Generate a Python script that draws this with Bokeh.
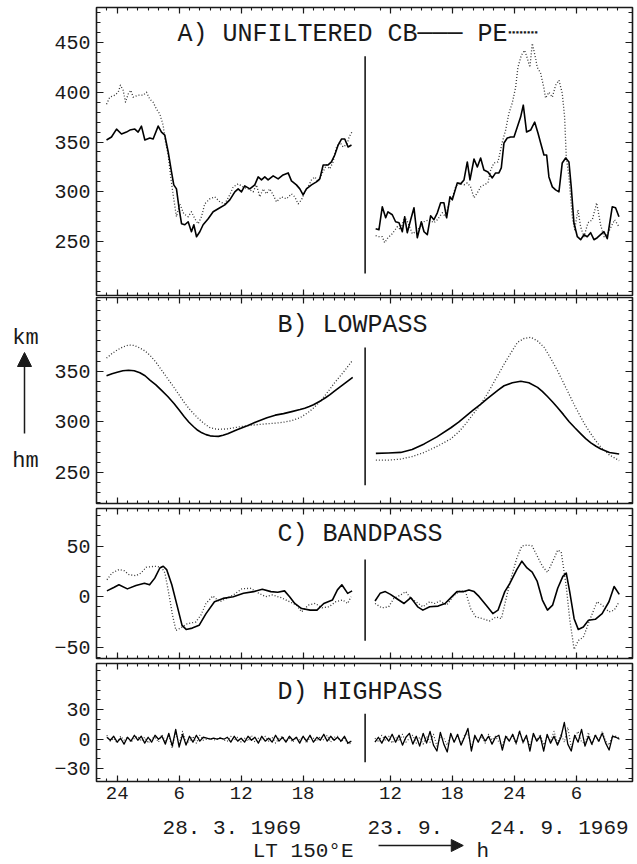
import numpy as np
from bokeh.plotting import figure
from bokeh.layouts import column, row
from bokeh.models import (Range1d, LinearAxis, FixedTicker, Label, Arrow,
                          NormalHead, CustomJSTickFormatter)
from bokeh.core.properties import value
from bokeh.embed import file_html
from bokeh.resources import INLINE

# ---------------------------------------------------------------- data
# x = local time LT 150E in hours.
# left block: 28.3.1969 (0 = 24h of 27/28.3); right block: hours from 00 LT of 23.9.1969
RIGHT_OFFSET = 14.45          # plot position of right block = LT + offset
X_START, X_END = -2.0, 49.88

X_MAJ_L = [0, 6, 12, 18]
X_MAJ_L_LABELS = ["24", "6", "12", "18"]
X_MAJ_R = [12, 18, 24, 30]
X_MAJ_R_LABELS = ["12", "18", "24", "6"]
X_MIN_L = list(range(-1, 24))
X_MIN_R = list(range(11, 35))
DIVIDER_X = 24.0

# A) unfiltered hm (km)
A_CB_L_T = [-1.03,-0.55,-0.06,0.42,0.90,1.23,1.71,2.03,2.35,2.68,3.16,3.48,3.97,4.29,4.61,4.94,5.26,5.48,5.74,6.00,
            6.23,6.55,6.87,7.19,7.42,7.68,8.00,8.32,8.81,9.29,9.94,10.42,10.90,11.39,11.71,12.03,12.35,12.84,13.32,13.65,
            13.97,14.29,14.61,15.10,15.58,16.06,16.55,16.87,17.35,17.68,18.00,18.32,18.81,19.29,19.61,19.94,20.42,20.74,21.06,21.39,
            21.71,22.03,22.35,22.68]
A_CB_L = [352,355,363,358,360,362,363,360,366,352, 354,353,366,360,357,340,320,307,303,283,
          268,267,270,260,267,255,260,267,273,280, 284,287,292,300,303,300,306,303,307,315,
          312,315,312,316,313,317,319,311,307,303, 297,303,307,310,313,327,327,330,337,347,
          353,353,345,347]
A_PE_L_T = [-1.03,-0.71,-0.23,0.10,0.32,0.58,0.81,1.06,1.32,1.55, 2.03,2.52,2.84,3.16,3.48,3.81,4.13,4.45,4.68,4.94,
            5.16,5.42,5.74,6.06,6.45,6.87,7.19,7.52,7.84,8.16, 8.48,8.97,9.45,9.94,10.42,10.90,11.23,11.71,12.19,12.68,
            13.16,13.48,13.81,14.13,14.45,14.77,15.10,15.42,15.90,16.39, 16.87,17.19,17.52,17.84,18.16,18.48,18.81,19.13,19.45,19.77,
            20.26,20.58,20.90,21.23,21.55,21.87,22.26,22.45,22.77]
A_PE_L = [388,395,397,400,407,402,390,398,402,395, 397,397,400,393,390,383,378,367,350,337,
          317,297,275,288,278,275,280,273,268,275, 288,293,295,290,288,297,305,308,305,303,
          300,307,295,303,298,303,297,290,295,293, 298,295,288,292,300,305,312,315,310,317,
          327,323,330,345,350,345,348,355,361]
A_CB_R_T = [10.57,10.89,11.21,11.54,11.76,12.18,12.50,12.83,13.15,13.38, 13.63,13.96,14.28,14.60,14.99,15.25,15.57,15.89,16.21,16.54,
            16.86,17.18,17.44,17.76,17.99,18.47,18.79,19.12,19.44,19.70, 20.09,20.41,20.73,21.05,21.44,21.86,22.18,22.50,22.73,22.99,
            23.31,23.63,23.96,24.28,24.60,24.86,25.18,25.57,25.96,26.28, 26.54,26.86,27.12,27.34,27.67,27.99,28.31,28.63,28.96,29.28,
            29.50,29.76,30.09,30.41,30.73,31.05,31.38,31.70,32.02,32.34, 32.67,32.99,33.47,33.79,34.12]
A_CB_R = [263,262,285,274,280,277,270,269,260,275, 259,272,284,254,270,260,257,276,272,279,
          289,289,274,295,292,309,308,312,330,312, 333,325,334,322,320,314,319,319,324,349,
          354,355,355,365,375,387,360,362,370,359, 349,337,337,315,305,302,300,329,334,330,
          305,269,255,252,257,255,259,252,254,257, 260,253,285,284,275]
A_PE_R_T = [10.57,10.89,11.21,11.44,11.76,12.18,12.67,12.99,13.38,13.70, 14.12,14.44,14.92,15.25,15.73,16.21,16.54,17.02,17.34,17.67,
            17.99,18.31,18.63,19.12,19.44,19.76,20.09,20.41,20.73,21.05, 21.44,21.70,22.02,22.41,22.83,23.15,23.47,23.79,24.12,24.34,
            24.67,24.99,25.25,25.50,25.73,26.05,26.21,26.54,26.86,27.02, 27.34,27.67,27.99,28.31,28.63,28.86,29.02,29.28,29.60,29.83,
            30.15,30.41,30.73,31.12,31.54,31.96,32.34,32.67,32.99,33.31, 33.70,34.12]
A_PE_R = [256,255,255,249,254,258,265,262,275,269, 258,260,265,270,272,269,272,279,275,289,
          294,305,309,307,309,305,294,299,305,307, 309,322,329,330,350,362,379,389,405,425,
          437,442,434,425,449,434,425,419,404,394, 400,395,407,412,399,375,335,315,275,262,
          282,265,255,269,272,289,267,255,257,264, 272,265]

# B) lowpass
B_L_T = [-1.03,-0.5,0,0.55,1.1,1.65,2.2,2.7,3.2,3.75,4.3,4.9,5.5,6.0,6.5,6.95,7.4,7.8,8.2,8.6,9.0,9.4,9.8,10.25,10.7,
         11.15,11.6,12.1,12.6,13.05,13.5,14.0,14.5,15.3,16.1,16.9,17.7,18.15,18.6,19.0,19.4,19.8,20.2,20.6,21.0,21.45,21.9,22.35,22.8]
B_CB_L = [345.5,347.5,349,350.5,351,350.5,348.5,345.5,341,336.5,331,325,318,311.5,305,299.5,295,291.5,289,287.2,286,285.6,285.5,286.5,288,
          290,292,294,296,298,300,302,304,306.5,308,310,312,313.4,315,316.8,319,321.3,324,326.8,330,333.5,337,340.5,344]
B_PE_L = [363,367.5,371,374,376,375.5,373,370,365.5,359,351,342.5,334,326.5,319,313,308,303.8,300,296.8,294,293,292.5,292.6,293,
          293.7,294.5,295.3,296,296.6,297,297.5,298,298.5,299.5,301,304,306.8,310,313.6,317.6,322,327,332.4,338,343.5,349,355,361]
B_CB_R_T = [10.59,11.8,13.0,14.1,15.27,16.5,17.85,18.6,19.3,20.0,20.75,21.35,21.9,22.45,23.0,23.8,24.62,25.4,26.24,26.7,27.2,27.7,
            28.17,28.75,29.3,29.85,30.43,30.9,31.4,31.9,32.37,33.2,34.14]
B_CB_R = [268.6,269,269.6,272.5,278,285,294,299.5,305.5,311.5,317.5,322.5,327,331.5,335.6,338.5,340,338.5,334,330,325,319.5,
          314,307,300,294,288,283.2,279,275.7,273,269.5,268]
B_PE_R_T = [10.59,11.8,13.0,14.1,15.27,16.5,17.85,18.6,19.3,20.0,20.75,21.35,21.9,22.45,23.0,23.65,24.3,24.95,25.59,26.24,26.88,27.5,
            28.17,28.75,29.3,29.85,30.43,30.9,31.4,31.9,32.37,33.2,34.14]
B_PE_R = [262,262,263,265.5,269.6,275.5,283,289.8,298,307.5,317.5,327,337,347,357,368,378.6,382.5,383.6,380,373.6,363,
          350.6,338.5,327,315.5,304.4,295.8,288,280.8,274.7,267,261.5]

# C) bandpass
C_CB_L_T = [-0.99,-0.33,0.17,0.99,1.82,2.64,3.14,3.64,4.13,4.46, 4.79,5.29,5.79,6.28,6.68,7.27,7.93,8.60,9.42,10.25,
            11.24,12.23,13.22,14.05,14.88,15.54,16.20,16.69,17.19,17.85, 18.68,19.34,20.00,20.83,21.32,21.75,22.31,22.74]
C_CB_L = [5.7,9,11.7,7.7,11,13.3,11.7,18.3,28.3,30, 26.7,11.7,-8.3,-28.3,-32.3,-31,-28.3,-16.7,-5,-1.7,
          0,3.3,5,7.3,5,4.3,5.7,0,-6.7,-11.7, -13.3,-13.3,-6.7,-3.3,6.7,11.7,3.3,5.7]
C_PE_L_T = [-0.99,-0.50,0.17,0.66,1.16,1.82,2.31,2.81,3.64,4.30, 4.63,5.02,5.36,5.69,6.12,6.78,7.60,8.10,8.60,9.26,
            9.92,10.58,11.24,12.07,12.89,13.72,14.38,15.04,15.87,16.69, 17.36,17.85,18.51,19.17,19.83,20.50,21.16,21.82,22.31,22.64]
C_PE_L = [16.7,23.3,26.7,25.7,21.7,20.7,23.3,29,30,29, 23.3,1.7,-18.3,-33.3,-31,-26.7,-25,-18.3,-6.7,0.7,
          -5,-1.7,1.7,7.7,8.3,3.3,0,1.7,-1,-5, -8.3,-15,-8.3,-6.7,-11,-10,-5,-3.3,-6.7,0]
C_CB_R_T = [10.51,11.00,11.50,12.00,12.66,13.32,13.98,14.64,15.14,15.80, 16.62,17.29,17.95,18.44,19.10,19.60,20.10,20.59,21.25,21.91,
            22.41,23.07,23.57,24.23,24.72,25.22,25.72,26.21,26.71,27.20, 27.70,28.19,28.69,29.02,29.35,29.78,30.18,30.67,31.17,31.83,
            32.49,33.15,33.65,34.15]
C_CB_R = [-4.3,3.3,5,2.3,-2.3,-6.7,-1,-10,-13.3,-10, -9.3,-6.7,0,5,5,6.7,5,0,-8.3,-16.7,
          -13.3,5,13.3,26.7,35,28.3,24.3,15,-3.3,-13.3, -8.3,8.3,20,23.3,5,-21.7,-32.3,-30,-23.3,-22.3,
          -16.7,-5,10,2.3]
C_PE_R_T = [10.51,11.17,11.83,12.33,12.99,13.48,13.98,14.48,15.14,15.80, 16.29,16.79,17.45,18.11,18.77,19.27,19.76,20.26,20.92,21.58,
            22.24,22.74,23.24,23.73,24.23,24.72,25.22,25.72,26.21,26.71, 27.20,27.86,28.19,28.53,29.02,29.35,29.78,30.18,30.67,31.34,
            32.00,32.49,33.15,33.65,34.15]
C_PE_R = [-6.7,-11,-10,-1.7,1.7,5,-1.7,-5,-10,-5, -6.7,-4.3,-8.3,1,5.7,5,-11.7,-20,-21.7,-24,
          -20,-21.7,0,20,38,50,51,50,40,30, 24,38,46,44,10,-22,-52,-43.3,-40,-21.7,
          -5,-8.3,-15,-13.3,-5]

# D) highpass (sampled every 20 min)
D_DT = 1.0 / 3.0
D_L_T0 = -1.0
D_R_T0 = 10.5
D_CB_L = [2,-1,3,-3,1,-5,2,-2,4,-1,3,-4,2,-3,4,0,3,-5, 6,-7,10,-8,5,-6, 3,-3,4,-2,2, 1,0,1,0,1,0,
          2,-3,3,-2,1,-3,3,-1,2,-4,3,-2,1,-3,4,-2,2,-3,3,-1,2,-4,3,-2,4,-3,2,-1,5,-2,3,-1,2,-2,3,-4,-2]
D_PE_L = [4,-2,1,-4,3,-1,2,-3,1,3,-2,2,-4,1,2,-3,5,-2, 3,-9,7,-5,8,-4, -2,3,-4,4,-1, 0,1,-1,0,2,-1,
          -2,3,-1,2,-3,1,-2,4,-3,1,-1,3,-2,2,-4,1,3,-2,1,-3,2,-1,3,-4,2,1,-2,3,-1,4,-3,2,3,-3,1,-5,-4]
D_CB_R = [-3,2,-4,3,-2,5,-3,4,-6,2, 6,-5,3,-7,6,-4,8,-6,-12,7, -5,-13,6,-3,5,-6,2,11,-12,4,
          -3,5,-2,3,-5,2,4,-11,3,-2, 5,-4,8,-3,4,-12,6,-2,3,-12, 5,-4,3,-6,2,17,-5,-12,4,-3,
          10,-7,3,-5,4,-2,6,-4,-11,3, 2,0]
D_PE_R = [1,-3,4,-1,3,-4,2,-2,5,-3, 1,4,-4,2,-5,3,-3,5,-7,3, 1,-6,4,-2,3,-5,4,6,-8,2,
          -2,3,-4,5,-1,3,-3,-6,4,-1, 3,-5,9,-4,2,-7,4,-1,5,-6, 3,-2,8,-4,5,-3,12,-8,2,8,
          -3,-4,7,-6,5,-3,8,-2,-6,4, 3,1]

# bottom captions
DATE_TEXT = ["28. 3. 1969", "23. 9.", "24. 9. 1969"]
DATE_X = [11.1, 27.9, 42.8]
AXIS_TEXT = ["LT 150\u00b0E", "h"]
AXIS_TEXT_X = [18.0, 35.4]

# ---------------------------------------------------------------- style / geometry
FONT = "Liberation Mono"
INK = "#1a1a1a"
FRAME_W = 536
LEFT_B, RIGHT_B = 48, 3
W = LEFT_B + FRAME_W + RIGHT_B
STRIP_W = 48
TOTAL_H = 864

CB_STYLE = dict(line_color="black", line_width=1.6, line_join="round")
PE_STYLE = dict(line_color="#333333", line_width=1.3, line_dash="1 2", line_join="round")

X_TICKS = X_MAJ_L + [t + RIGHT_OFFSET for t in X_MAJ_R]
X_MINOR = X_MIN_L + [t + RIGHT_OFFSET for t in X_MIN_R]
X_TICK_LABELS = X_MAJ_L_LABELS + X_MAJ_R_LABELS

x_range = Range1d(X_START, X_END)


def style_axis(ax, major_in, minor_in):
    ax.axis_line_color = None
    ax.major_tick_in = major_in
    ax.major_tick_out = 0
    ax.minor_tick_in = minor_in
    ax.minor_tick_out = 0
    ax.major_tick_line_color = INK
    ax.minor_tick_line_color = INK
    ax.major_tick_line_width = 1.2
    ax.minor_tick_line_width = 1.1


def hide_labels(ax):
    ax.formatter = CustomJSTickFormatter(code="return '';")
    ax.major_label_text_font_size = "0px"
    ax.major_label_standoff = 0


def panel(height, top_b, bottom_b, yr, ymaj, ymin, xlabels=False):
    p = figure(width=W, height=height, x_range=x_range, y_range=Range1d(*yr),
               x_axis_location=None, y_axis_location=None,
               output_backend="svg", toolbar_location=None,
               min_border_left=LEFT_B, min_border_right=RIGHT_B,
               min_border_top=top_b, min_border_bottom=bottom_b)
    p.xgrid.visible = False
    p.ygrid.visible = False
    p.outline_line_color = INK
    p.outline_line_width = 1.6
    p.background_fill_color = "white"
    p.border_fill_color = "white"
    xt = FixedTicker(ticks=X_TICKS, minor_ticks=X_MINOR)
    yt = FixedTicker(ticks=ymaj, minor_ticks=ymin)
    for place in ("below", "above"):
        ax = LinearAxis(ticker=xt)
        style_axis(ax, 6, 3)
        if place == "below" and xlabels:
            ax.formatter = CustomJSTickFormatter(args=dict(labels=X_TICK_LABELS),
                                                 code="return labels[index];")
            ax.major_label_text_font = FONT
            ax.major_label_text_font_size = "19px"
            ax.major_label_text_color = INK
            ax.major_label_standoff = 5
        else:
            hide_labels(ax)
        p.add_layout(ax, place)
    for place in ("left", "right"):
        ax = LinearAxis(ticker=yt)
        style_axis(ax, 7, 4)
        if place == "left":
            ax.major_label_text_font = FONT
            ax.major_label_text_font_size = "20px"
            ax.major_label_text_color = INK
            ax.major_label_standoff = 6
        else:
            hide_labels(ax)
        p.add_layout(ax, place)
    return p


def add_pair(p, cb_t, cb_v, pe_t, pe_v, right, cbw=None, pew=None):
    off = RIGHT_OFFSET if right else 0.0
    cbs = dict(CB_STYLE)
    pes = dict(PE_STYLE)
    if cbw:
        cbs["line_width"] = cbw
    if pew:
        pes["line_width"] = pew
    p.line([t + off for t in pe_t], pe_v, **pes)
    p.line([t + off for t in cb_t], cb_v, **cbs)


def add_divider(p, y0, y1):
    p.segment(x0=[DIVIDER_X], y0=[y0], x1=[DIVIDER_X], y1=[y1], line_color=INK, line_width=1.6)


def add_title(p, x, y, text):
    p.add_layout(Label(x=x, y=y, text=text, text_font=FONT, text_font_size="25px",
                       text_color=INK, text_baseline="alphabetic"))


# ---------------------------------------------------------------- panels
H_A, H_B, H_C, H_D = 297, 208, 155, 148
pa = panel(H_A, 7, 2, (196, 485), [250, 300, 350, 400, 450], list(range(200, 490, 10)))
add_pair(pa, A_CB_L_T, A_CB_L, A_PE_L_T, A_PE_L, False)
add_pair(pa, A_CB_R_T, A_CB_R, A_PE_R_T, A_PE_R, True)
add_divider(pa, 218, 436)
add_title(pa, 5.84, 457.8, "A) UNFILTERED CB\u2500\u2500\u2500  PE\u2508\u2508")

pb = panel(H_B, 0, 2, (219, 423), [250, 300, 350], list(range(220, 430, 10)))
add_pair(pb, B_L_T, B_CB_L, B_L_T, B_PE_L, False)
add_pair(pb, B_CB_R_T, B_CB_R, B_PE_R_T, B_PE_R, True)
add_divider(pb, 237, 373.5)
add_title(pb, 15.52, 395.3, "B) LOWPASS")

pc = panel(H_C, 3, 2, (-61, 87), [-50, 0, 50], list(range(-60, 90, 10)))
add_pair(pc, C_CB_L_T, C_CB_L, C_PE_L_T, C_PE_L, False)
add_pair(pc, C_CB_R_T, C_CB_R, C_PE_R_T, C_PE_R, True)
add_divider(pc, -43.5, 36.8)
add_title(pc, 15.52, 61.3, "C) BANDPASS")

pd = panel(H_D, 3, 27, (-43, 77), [-30, 0, 30], list(range(-40, 80, 10)), xlabels=True)
d_l_t = list(D_L_T0 + np.arange(len(D_CB_L)) * D_DT)
d_r_t = list(D_R_T0 + np.arange(len(D_CB_R)) * D_DT)
add_pair(pd, d_l_t, D_CB_L, d_l_t, D_PE_L, False, cbw=1.3, pew=1.1)
add_pair(pd, d_r_t, D_CB_R, d_r_t, D_PE_R, True, cbw=1.3, pew=1.1)
add_divider(pd, -23.5, 26)
add_title(pd, 15.52, 47.5, "D) HIGHPASS")

# ---------------------------------------------------------------- bottom caption strip (same x scale)
E_H = TOTAL_H - (H_A + H_B + H_C + H_D)
pe_ = figure(width=W, height=E_H, x_range=x_range, y_range=Range1d(E_H, 0),
             x_axis_location=None, y_axis_location=None,
             output_backend="svg", toolbar_location=None,
             min_border_left=LEFT_B, min_border_right=RIGHT_B, min_border_top=0, min_border_bottom=0)
pe_.outline_line_color = None
pe_.xgrid.visible = False
pe_.ygrid.visible = False
pe_.text(x=DATE_X, y=[20] * 3, text=DATE_TEXT, text_font=value(FONT), text_font_size="21px",
         text_color=INK, text_align="center", text_baseline="alphabetic")
pe_.text(x=AXIS_TEXT_X, y=[43, 43], text=AXIS_TEXT, text_font=value(FONT),
         text_font_size="21px", text_color=INK, text_align="center", text_baseline="alphabetic")
pe_.add_layout(Arrow(end=NormalHead(size=12, fill_color=INK, line_color=INK),
                     x_start=25.3, y_start=37, x_end=33.5, y_end=37,
                     line_color=INK, line_width=1.5))

# ---------------------------------------------------------------- left unit strip
ps = figure(width=STRIP_W, height=TOTAL_H, x_range=Range1d(0, STRIP_W), y_range=Range1d(TOTAL_H, 0),
            x_axis_location=None, y_axis_location=None,
            output_backend="svg", toolbar_location=None,
            min_border_left=0, min_border_right=0, min_border_top=0, min_border_bottom=0)
ps.outline_line_color = None
ps.xgrid.visible = False
ps.ygrid.visible = False
ps.text(x=[25, 25], y=[338, 461], text=["km", "hm"], text_font=value(FONT), text_font_size="22px",
        text_color=INK, text_align="center", text_baseline="alphabetic")
ps.add_layout(Arrow(end=NormalHead(size=14, fill_color=INK, line_color=INK),
                    x_start=24, y_start=433, x_end=24, y_end=352,
                    line_color=INK, line_width=1.5))

layout = row(ps, column(pa, pb, pc, pd, pe_))

open("out.html", "w").write(file_html(layout, INLINE))
